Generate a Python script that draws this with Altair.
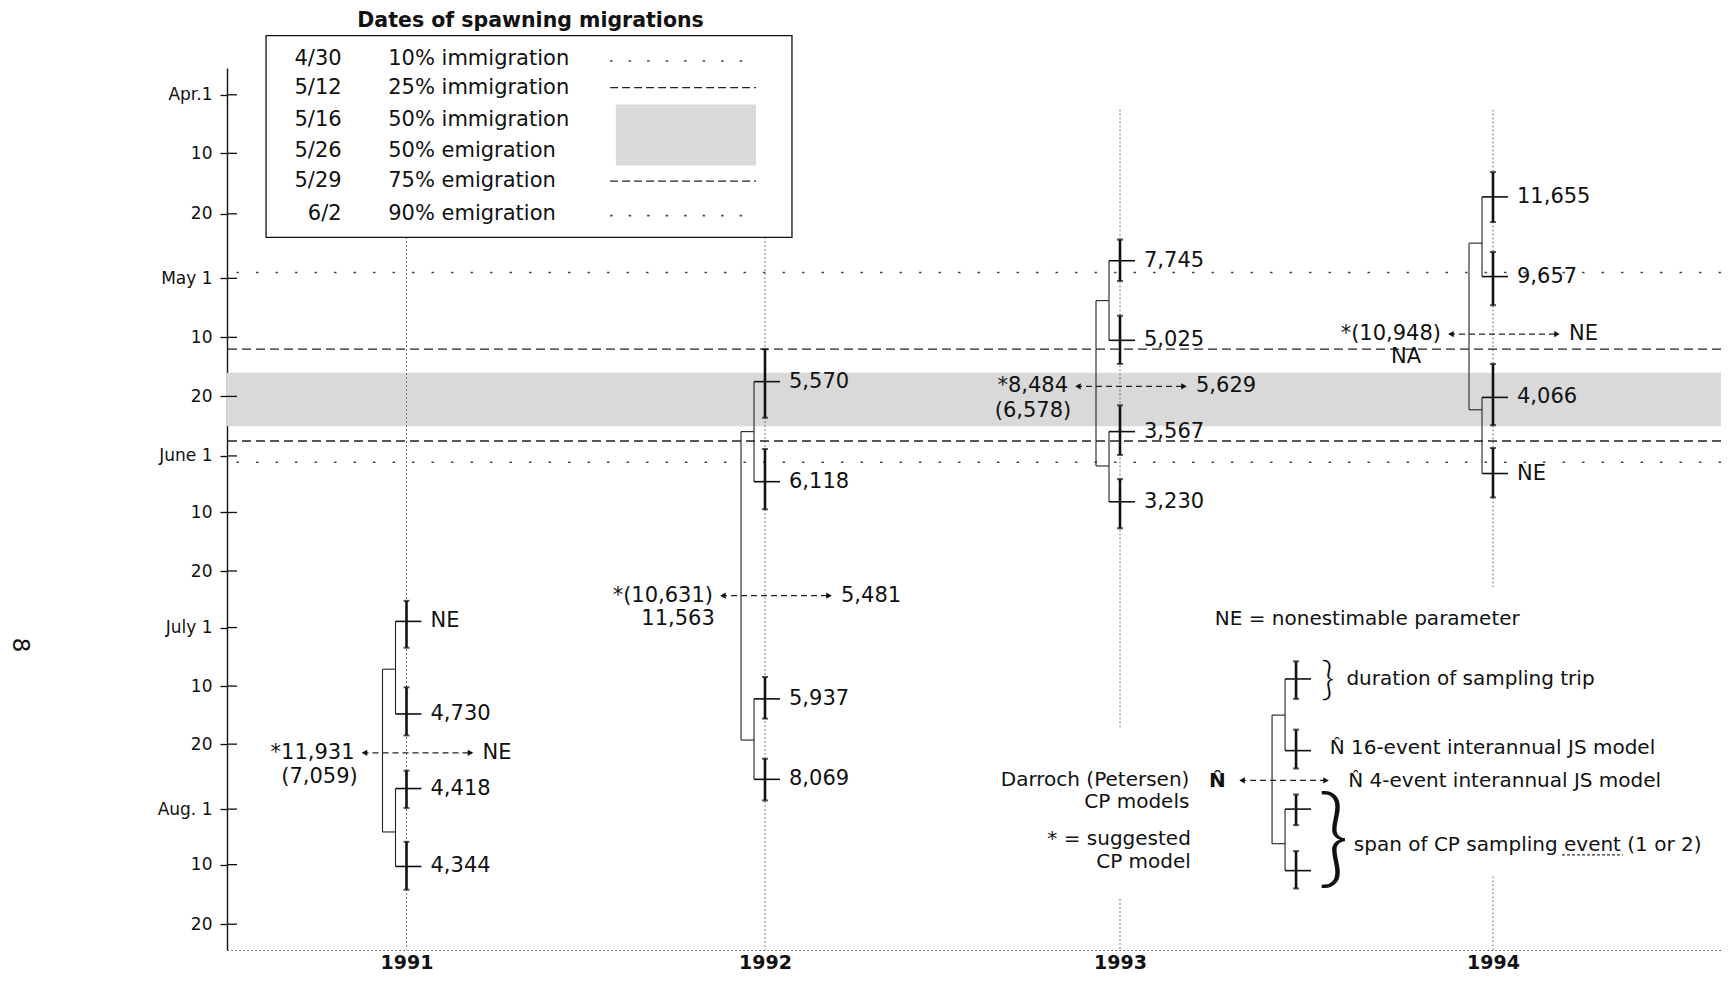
import altair as alt
import pandas as pd

# ---------------- data ----------------
# y values are day numbers counted from April 1 (Apr 1 = 0, May 1 = 30,
# June 1 = 61, July 1 = 91, Aug 1 = 122)
years = [1991, 1992, 1993, 1994]

trip_start = [
    [85.8, 100.2, 114.9, 127.3],
    [41.0, 59.6, 98.6, 112.7],
    [23.4, 35.7, 50.8, 64.7],
    [12.1, 25.5, 43.5, 59.4],
]
trip_end = [
    [94.1, 108.5, 121.8, 135.2],
    [53.3, 69.5, 105.6, 120.4],
    [30.4, 43.5, 60.8, 72.7],
    [20.4, 34.1, 54.8, 67.6],
]
trip_mid = [
    [89.8, 104.8, 118.2, 131.3],
    [46.5, 65.1, 102.2, 116.5],
    [27.0, 39.5, 56.1, 68.3],
    [16.2, 29.7, 49.2, 63.8],
]
js16_estimates = [
    ["NE", "4,730", "4,418", "4,344"],
    ["5,570", "6,118", "5,937", "8,069"],
    ["7,745", "5,025", "3,567", "3,230"],
    ["11,655", "9,657", "4,066", "NE"],
]
join_top = [97.4, 56.1, 33.4, 24.0]
join_bottom = [125.7, 109.3, 62.6, 51.7]
cp_day = [111.6, 84.8, 47.3, 38.5]
cp_first = ["*11,931", "*(10,631)", "*8,484", "*(10,948)"]
cp_second = ["(7,059)", "11,563", "(6,578)", "NA"]
cp_second_day = [116.1, 89.4, 52.0, 42.4]
js4_estimates = ["NE", "5,481", "5,629", "NE"]

mig_dates = ["4/30", "5/12", "5/16", "5/26", "5/29", "6/2"]
mig_labels = ["10% immigration", "25% immigration", "50% immigration",
              "50% emigration", "75% emigration", "90% emigration"]
mig_days = [29, 41, 45, 55, 58, 62]

tick_days = [0, 9, 19, 30, 39, 49, 61, 70, 80, 91, 100, 110, 122, 131, 141]
tick_labels = ["Apr.1", "10", "20", "May 1", "10", "20", "June 1", "10", "20",
               "July 1", "10", "20", "Aug. 1", "10", "20"]

yearline_year = [1991, 1992, 1993, 1993, 1994, 1994]
yearline_from = [23.0, 23.0, 2.3, 136.8, 2.3, 133.0]
yearline_to = [145.3, 145.3, 107.2, 145.3, 83.1, 145.3]

# key diagram (explanation)
key_x = 1993.472
key_start = [96.2, 107.5, 119.3, 128.8]
key_end = [102.2, 114.5, 124.6, 135.0]
key_mid = [98.9, 111.2, 122.0, 132.0]
key_join = [105.0, 127.6]
key_arrow_day = 116.7

# ---------------- layout ----------------
W, H = 1494, 882
PAD = {"left": 219, "top": 60, "right": 0, "bottom": 23}
X_MIN, X_MAX = 1990.499, 1994.611
# reference pixel columns of the plot edges and year lines (x scale is piecewise)
x_ref_px = [227, 406.5, 765, 1120, 1493, 227 + W]
x_domain = [X_MIN] + years + [X_MAX]
x_range = [p - x_ref_px[0] for p in x_ref_px]

REF_TOP, REF_BOT = 70.0, 959.0
tick_ref_px = [97, 156, 217, 282, 341.5, 401, 461, 518, 577, 634, 693, 751.5, 817, 873, 933]
k = H / (REF_BOT - REF_TOP)
Y_TOP = -(tick_ref_px[0] - REF_TOP) * 9 / 59
Y_BOT = 141 + (REF_BOT - tick_ref_px[-1]) * 10 / 60
y_domain = [Y_TOP] + tick_days + [Y_BOT]
y_range = [0] + [(p - REF_TOP) * k for p in tick_ref_px] + [H]

FONT = "DejaVu Sans"
INK = "#111111"
BAND = "#d9d9d9"

label_expr = ("[" + ",".join("'%s'" % t for t in tick_labels) + "][indexof(["
              + ",".join(str(d) for d in tick_days) + "], datum.value)]")

xs = alt.Scale(domain=x_domain, range=x_range, nice=False, zero=False)
ys = alt.Scale(domain=y_domain, range=y_range, nice=False, zero=False)
xaxis = alt.Axis(values=years, format="d", title=None, grid=False, ticks=False,
                 domain=True, domainColor="#555555", domainDash=[1.5, 2.5], domainWidth=1,
                 labelFont=FONT, labelFontSize=19, labelFontWeight="bold",
                 labelColor=INK, labelPadding=3)
yaxis = alt.Axis(values=tick_days, labelExpr=label_expr, title=None, grid=False,
                 domain=True, domainColor=INK, domainWidth=1.4, ticks=True, tickSize=7,
                 tickColor=INK, tickWidth=1.3, labelFont=FONT, labelFontSize=17,
                 labelColor=INK, labelPadding=8)


def ex(f="x"):
    return alt.X(f"{f}:Q", scale=xs, axis=xaxis)


def ey(f="y"):
    return alt.Y(f"{f}:Q", scale=ys, axis=yaxis)


def segs(df, **mark):
    return alt.Chart(df).mark_rule(**mark).encode(
        x=ex("x"), x2=alt.X2("x2:Q"), y=ey("y"), y2=alt.Y2("y2:Q"))


def texts(df, **mark):
    base = dict(baseline="middle", font=FONT, color=INK)
    base.update(mark)
    return alt.Chart(df).mark_text(**base).encode(x=ex("x"), y=ey("y"), text="text:N")


# pixel offsets of the bracket parts relative to a year line
BR, JN, CB_R, LAB = -11, -24, 15, 24

# ---------------- tables ----------------
band_df = pd.DataFrame({"y": [mig_days[2]], "y2": [mig_days[3]]})
dotted_df = pd.DataFrame({"day": [mig_days[0], mig_days[5]]})
dashed_df = pd.DataFrame({"day": [mig_days[1], mig_days[4]]})

yl_df = pd.DataFrame({"x": yearline_year, "x2": yearline_year, "y": yearline_from, "y2": yearline_to})
inner_ticks = pd.DataFrame({"x": X_MIN, "x2": X_MIN, "y": tick_days, "y2": tick_days})

groups = [(yr, trip_start[i], trip_end[i], trip_mid[i], join_top[i], join_bottom[i])
          for i, yr in enumerate(years)]
groups.append((key_x, key_start, key_end, key_mid, key_join[0], key_join[1]))

bars, mids, pairs, joins, stubs = [], [], [], [], []
for (gx, st, en, md, jt, jb) in groups:
    for s, e, m in zip(st, en, md):
        bars.append(dict(x=gx, x2=gx, y=s, y2=e))
        mids.append(dict(x=gx, x2=gx, y=m, y2=m))
    pairs.append(dict(x=gx, x2=gx, y=md[0], y2=md[1]))
    pairs.append(dict(x=gx, x2=gx, y=md[2], y2=md[3]))
    joins.append(dict(x=gx, x2=gx, y=jt, y2=jb))
    stubs.append(dict(x=gx, x2=gx, y=jt, y2=jt))
    stubs.append(dict(x=gx, x2=gx, y=jb, y2=jb))
bars_df = pd.DataFrame(bars)
mids_df = pd.DataFrame(mids)
pairs_df = pd.DataFrame(pairs)
joins_df = pd.DataFrame(joins)
stubs_df = pd.DataFrame(stubs)
caps_df = pd.DataFrame([dict(x=b["x"], y=v) for b in bars for v in (b["y"], b["y2"])])

arrows_df = pd.DataFrame({"x": years, "x2": years, "y": cp_day, "y2": cp_day})
key_arrow_df = pd.DataFrame({"x": [key_x], "x2": [key_x], "y": [key_arrow_day], "y2": [key_arrow_day]})

est_df = pd.DataFrame([dict(x=yr, y=m, text=t)
                       for yr, ms, ts in zip(years, trip_mid, js16_estimates)
                       for m, t in zip(ms, ts)])
cp1_df = pd.DataFrame({"x": years, "y": cp_day, "text": cp_first})
cp2_df = pd.DataFrame({"x": years, "y": cp_second_day, "text": cp_second})
js4_df = pd.DataFrame({"x": years, "y": cp_day, "text": js4_estimates})

key_left = pd.DataFrame({
    "text": ["NE = nonestimable parameter", "duration of sampling trip",
             "N\u0302 16-event interannual JS model", "N\u0302 4-event interannual JS model",
             "span of CP sampling event (1 or 2)"],
    "x": [1993.254, 1993.607, 1993.562, 1993.612, 1993.627],
    "y": [89.3, 98.9, 110.8, 116.9, 127.8]})
key_right = pd.DataFrame({
    "text": ["Darroch (Petersen)", "CP models", "* = suggested", "CP model"],
    "x": [1993.186, 1993.186, 1993.190, 1993.190],
    "y": [116.7, 120.6, 126.9, 130.5]})
key_hat = pd.DataFrame({"text": ["N\u0302"], "x": [1993.261], "y": [116.9]})
brace_small = pd.DataFrame({"text": ["}"], "x": [1993.557], "y": [99.0]})
brace_big = pd.DataFrame({"text": ["}"], "x": [1993.572], "y": [127.3]})
underline_df = pd.DataFrame({"x": [1994.185], "x2": [1994.348], "y": [129.4], "y2": [129.4]})

# legend box
LEG_X0, LEG_X1, LEG_Y0, LEG_Y1 = 1990.608, 1992.076, -9.1, 23.0
leg_row_day = [-5.5, -1.1, 3.9, 8.6, 13.6, 19.0]
leg_box = pd.DataFrame({"x": [LEG_X0], "x2": [LEG_X1], "y": [LEG_Y0], "y2": [LEG_Y1]})
leg_title = pd.DataFrame({"text": ["Dates of spawning migrations"], "x": [1991.346], "y": [-11.4]})
leg_dates = pd.DataFrame({"text": mig_dates, "x": 1990.819, "y": leg_row_day})
leg_labels = pd.DataFrame({"text": mig_labels, "x": 1990.949, "y": leg_row_day})
leg_dotted = pd.DataFrame({"x": 1991.568, "x2": 1991.975,
                           "y": [leg_row_day[0] + 0.3, leg_row_day[5] + 0.3],
                           "y2": [leg_row_day[0] + 0.3, leg_row_day[5] + 0.3]})
leg_dashed = pd.DataFrame({"x": 1991.568, "x2": 1991.975,
                           "y": [leg_row_day[1], leg_row_day[4]],
                           "y2": [leg_row_day[1], leg_row_day[4]]})
leg_band = pd.DataFrame({"x": [1991.584], "x2": [1991.975], "y": [1.5], "y2": [11.0]})

page_no = pd.DataFrame({"text": ["8"], "x": [1989.922], "y": [93.7]})

# ---------------- layers ----------------
layers = [
    alt.Chart(band_df).mark_rect(color=BAND).encode(y=ey("y"), y2=alt.Y2("y2:Q")),
    alt.Chart(dotted_df).mark_rule(color="#444444", strokeWidth=1.6, strokeDash=[2.5, 17]).encode(y=ey("day")),
    alt.Chart(dashed_df).mark_rule(color="#222222", strokeWidth=1.4, strokeDash=[9, 5]).encode(y=ey("day")),
    segs(yl_df, color="#555555", strokeWidth=1, strokeDash=[1.5, 2.5]),
    segs(inner_ticks, color=INK, strokeWidth=1.3, x2Offset=10),
    # legend box
    alt.Chart(leg_box).mark_rect(fill="white", stroke=INK, strokeWidth=1.3).encode(
        x=ex("x"), x2=alt.X2("x2:Q"), y=ey("y"), y2=alt.Y2("y2:Q")),
    alt.Chart(leg_band).mark_rect(color=BAND).encode(
        x=ex("x"), x2=alt.X2("x2:Q"), y=ey("y"), y2=alt.Y2("y2:Q")),
    segs(leg_dotted, color="#444444", strokeWidth=1.6, strokeDash=[2.5, 16]),
    segs(leg_dashed, color="#222222", strokeWidth=1.4, strokeDash=[8, 4]),
    texts(leg_title, align="center", fontSize=20.5, fontWeight="bold"),
    texts(leg_dates, align="right", fontSize=21),
    texts(leg_labels, align="left", fontSize=21),
    # estimates: brackets, crossbars, sampling-trip bars
    segs(pairs_df, color="#222222", strokeWidth=1.1, xOffset=BR, x2Offset=BR),
    segs(joins_df, color="#222222", strokeWidth=1.1, xOffset=JN, x2Offset=JN),
    segs(stubs_df, color="#222222", strokeWidth=1.1, xOffset=JN, x2Offset=BR),
    segs(mids_df, color=INK, strokeWidth=1.6, xOffset=BR, x2Offset=CB_R),
    segs(bars_df, color=INK, strokeWidth=2.6),
    alt.Chart(caps_df).mark_tick(orient="horizontal", color=INK, size=6, thickness=2).encode(
        x=ex("x"), y=ey("y")),
    # CP arrows
    segs(arrows_df, color="#222222", strokeWidth=1.3, strokeDash=[6, 4], xOffset=-44, x2Offset=66),
    alt.Chart(arrows_df).mark_point(shape="triangle-left", filled=True, size=40, color=INK,
                                    opacity=1, xOffset=-42).encode(x=ex("x"), y=ey("y")),
    alt.Chart(arrows_df).mark_point(shape="triangle-right", filled=True, size=40, color=INK,
                                    opacity=1, xOffset=64).encode(x=ex("x"), y=ey("y")),
    segs(key_arrow_df, color="#222222", strokeWidth=1.3, strokeDash=[6, 4], xOffset=-56, x2Offset=32),
    alt.Chart(key_arrow_df).mark_point(shape="triangle-left", filled=True, size=40, color=INK,
                                       opacity=1, xOffset=-54).encode(x=ex("x"), y=ey("y")),
    alt.Chart(key_arrow_df).mark_point(shape="triangle-right", filled=True, size=40, color=INK,
                                       opacity=1, xOffset=30).encode(x=ex("x"), y=ey("y")),
    texts(est_df, align="left", fontSize=21, dx=LAB),
    texts(cp1_df, align="right", fontSize=21, dx=-52),
    texts(cp2_df, align="center", fontSize=21, dx=-87),
    texts(js4_df, align="left", fontSize=21, dx=76),
    # key
    texts(key_left, align="left", fontSize=20),
    texts(key_right, align="right", fontSize=20),
    texts(key_hat, align="center", fontSize=20, fontWeight="bold"),
    texts(brace_small, align="center", fontSize=46, font="Lato", fontWeight=300),
    texts(brace_big, align="center", fontSize=108, font="Lato", fontWeight=300),
    segs(underline_df, color="#333333", strokeWidth=1.2, strokeDash=[3, 2]),
    texts(page_no, align="center", fontSize=23, angle=90),
]

chart = alt.layer(*layers).properties(
    width=W, height=H, padding=PAD,
    autosize=alt.AutoSizeParams(type="none"),
    background="white",
).configure_view(stroke=None)

chart.save("out.html", embed_options={"renderer": "svg", "actions": False})
